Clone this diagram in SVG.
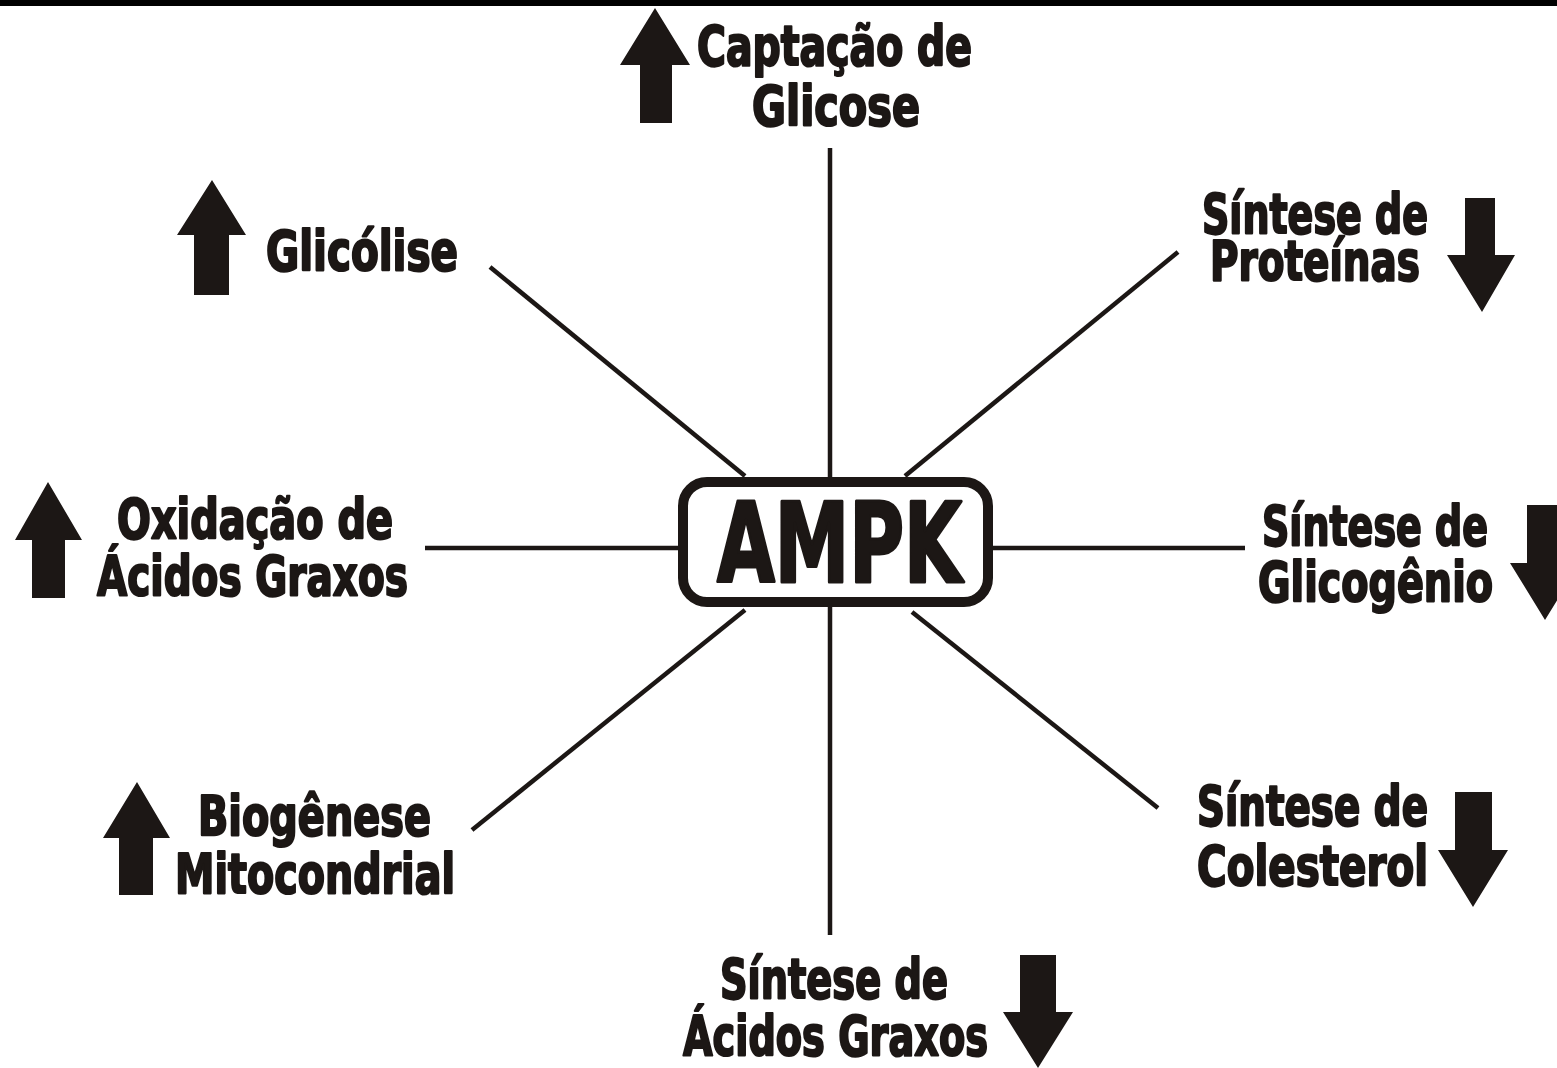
<svg xmlns="http://www.w3.org/2000/svg" width="1557" height="1068" viewBox="0 0 1557 1068">
<style>
.bg{fill:#ffffff}
.lbl{font-family:"Liberation Sans Narrow","DejaVu Sans Condensed","Liberation Sans",sans-serif;font-weight:bold;font-size:56px;fill:#1c1715;stroke:#1c1715;stroke-width:2.2px;stroke-linejoin:round}
.big{font-size:110px;stroke-width:3px}
.arr{fill:#1c1715}
.con line{stroke:#1c1715;stroke-width:4.5}
.box{fill:#ffffff;stroke:#1c1715;stroke-width:10}
</style>
<rect class="bg" x="0" y="0" width="1557" height="1068"/>
<rect x="0" y="0" width="1557" height="6" fill="#000"/>
<g id="connectors" class="con">
<line x1="830" y1="148" x2="830" y2="478"/>
<line x1="830" y1="606" x2="830" y2="935"/>
<line x1="425" y1="548" x2="679" y2="548"/>
<line x1="992" y1="548" x2="1245" y2="548"/>
<line x1="490" y1="267" x2="745" y2="476"/>
<line x1="1178" y1="252" x2="905" y2="476"/>
<line x1="472" y1="830" x2="745" y2="610"/>
<line x1="1158" y1="808" x2="912" y2="612"/>
</g>
<g id="ampk">
<rect class="box" x="683" y="482" width="305" height="120" rx="24"/>
<text class="lbl big" x="717" y="582" textLength="245" lengthAdjust="spacingAndGlyphs">AMPK</text>
</g>
<g id="captacao">
<path class="arr" d="M655,8 L690,65 L672,65 L672,123 L640,123 L640,65 L620,65 Z"/>
<text class="lbl" x="697" y="65" textLength="275" lengthAdjust="spacingAndGlyphs">Captação de</text>
<text class="lbl" x="752" y="125" textLength="168" lengthAdjust="spacingAndGlyphs">Glicose</text>
</g>
<g id="glicolise">
<path class="arr" d="M212,180 L246,235 L229,235 L229,295 L194,295 L194,235 L177,235 Z"/>
<text class="lbl" x="266" y="270" textLength="192" lengthAdjust="spacingAndGlyphs">Glicólise</text>
</g>
<g id="oxidacao">
<path class="arr" d="M48,482 L82,540 L65,540 L65,598 L32,598 L32,540 L15,540 Z"/>
<text class="lbl" x="117" y="538" textLength="276" lengthAdjust="spacingAndGlyphs">Oxidação de</text>
<text class="lbl" x="97" y="595" textLength="311" lengthAdjust="spacingAndGlyphs">Ácidos Graxos</text>
</g>
<g id="biogenese">
<path class="arr" d="M137,782 L170,838 L153,838 L153,895 L119,895 L119,838 L103,838 Z"/>
<text class="lbl" x="198" y="835" textLength="233" lengthAdjust="spacingAndGlyphs">Biogênese</text>
<text class="lbl" x="175" y="893" textLength="280" lengthAdjust="spacingAndGlyphs">Mitocondrial</text>
</g>
<g id="proteinas">
<text class="lbl" x="1202" y="233" textLength="226" lengthAdjust="spacingAndGlyphs">Síntese de</text>
<text class="lbl" x="1210" y="280" textLength="210" lengthAdjust="spacingAndGlyphs">Proteínas</text>
<path class="arr" d="M1465,198 L1495,198 L1495,255 L1515,255 L1482,312 L1447,255 L1465,255 Z"/>
</g>
<g id="glicogenio">
<text class="lbl" x="1262" y="545" textLength="226" lengthAdjust="spacingAndGlyphs">Síntese de</text>
<text class="lbl" x="1258" y="601" textLength="235" lengthAdjust="spacingAndGlyphs">Glicogênio</text>
<path class="arr" d="M1527,505 L1563,505 L1563,563 L1580,563 L1545,620 L1510,563 L1527,563 Z"/>
</g>
<g id="colesterol">
<text class="lbl" x="1197" y="825" textLength="231" lengthAdjust="spacingAndGlyphs">Síntese de</text>
<text class="lbl" x="1197" y="885" textLength="231" lengthAdjust="spacingAndGlyphs">Colesterol</text>
<path class="arr" d="M1455,792 L1492,792 L1492,850 L1508,850 L1473,907 L1438,850 L1455,850 Z"/>
</g>
<g id="acidos">
<text class="lbl" x="720" y="998" textLength="228" lengthAdjust="spacingAndGlyphs">Síntese de</text>
<text class="lbl" x="683" y="1055" textLength="305" lengthAdjust="spacingAndGlyphs">Ácidos Graxos</text>
<path class="arr" d="M1020,955 L1056,955 L1056,1012 L1073,1012 L1038,1068 L1003,1012 L1020,1012 Z"/>
</g>
</svg>
